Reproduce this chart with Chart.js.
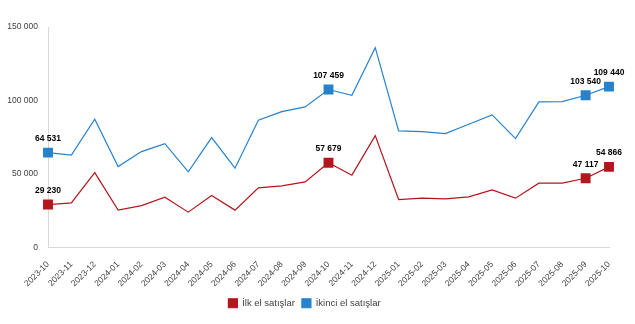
<!DOCTYPE html>
<html>
<head>
<meta charset="utf-8">
<script src="https://cdn.jsdelivr.net/npm/chart.js@4"></script>
<style>
    html, body { margin: 0; padding: 0; background: #fff; }
    #wrap { width: 635px; height: 324px; }
</style>
</head>
<body>
<div id="wrap"><canvas id="chart"></canvas></div>
<script>
const months = [
    '2023-10', '2023-11', '2023-12', '2024-01', '2024-02', '2024-03', '2024-04',
    '2024-05', '2024-06', '2024-07', '2024-08', '2024-09', '2024-10', '2024-11',
    '2024-12', '2025-01', '2025-02', '2025-03', '2025-04', '2025-05', '2025-06',
    '2025-07', '2025-08', '2025-09', '2025-10'
];

const firstHand = [
    29230, 30380, 50970, 25420, 28540, 34250, 24060, 35340, 25420, 40570, 41930, 44650,
    57679, 49200, 76120, 32620, 33570, 33100, 34460, 39210, 33570, 43760, 43760, 47117, 54866
];

const secondHand = [
    64531, 62800, 87260, 55050, 65240, 70680, 51450, 74760, 53960, 86580, 92430, 95620,
    107459, 103570, 135920, 79310, 78830, 77470, 83860, 90180, 74080, 99020, 99220, 103540, 109440
];

// months that get a square marker and a value label
const highlighted = [0, 12, 23, 24];

const RED = '#b3161c';
const BLUE = '#2782cc';
const TEXT = '#404040';
const FONT = "'Liberation Sans', Arial, sans-serif";

const fmt = (v) => String(Math.round(v)).replace(/\B(?=(\d{3})+(?!\d))/g, ' ');

const pointLabels = {
    id: 'pointLabels',
    afterDatasetsDraw(chart) {
        const ctx = chart.ctx;
        ctx.save();
        ctx.font = `bold 8.5px ${FONT}`;
        ctx.fillStyle = '#000';
        ctx.textAlign = 'center';
        ctx.textBaseline = 'middle';
        chart.data.datasets.forEach((ds, di) => {
            const meta = chart.getDatasetMeta(di);
            highlighted.forEach(i => {
                const p = meta.data[i];
                if (p) ctx.fillText(fmt(ds.data[i]), p.x, p.y - 14);
            });
        });
        ctx.restore();
    }
};

const markerRadius = (ctx) => highlighted.includes(ctx.dataIndex) ? 7 : 0;

new Chart(document.getElementById('chart'), {
    type: 'line',
    data: {
        labels: months,
        datasets: [{
            label: 'İlk el satışlar',
            data: firstHand,
            borderColor: RED,
            backgroundColor: RED,
            borderWidth: 1.2,
            pointStyle: 'rect',
            pointRadius: markerRadius,
            pointBorderWidth: 0,
            tension: 0
        }, {
            label: 'İkinci el satışlar',
            data: secondHand,
            borderColor: BLUE,
            backgroundColor: BLUE,
            borderWidth: 1.2,
            pointStyle: 'rect',
            pointRadius: markerRadius,
            pointBorderWidth: 0,
            tension: 0
        }]
    },
    options: {
        responsive: true,
        maintainAspectRatio: false,
        animation: false,
        layout: { padding: { top: 27, right: 26, left: 0, bottom: 6 } },
        plugins: {
            legend: {
                position: 'bottom',
                labels: {
                    boxWidth: 9,
                    boxHeight: 9,
                    color: TEXT,
                    font: { family: FONT, size: 9.5 },
                    padding: 7
                }
            },
            tooltip: { enabled: false }
        },
        scales: {
            x: {
                offset: false,
                afterFit: (scale) => { scale.height = 44; },
                grid: { display: true, drawOnChartArea: false, drawTicks: false },
                border: { display: true, color: '#d9d9d9' },
                ticks: {
                    maxRotation: 45,
                    minRotation: 45,
                    autoSkip: false,
                    padding: 12,
                    color: TEXT,
                    font: { family: FONT, size: 8.5 }
                }
            },
            y: {
                min: 0,
                max: 150000,
                afterFit: (scale) => { scale.width = 48; },
                grid: { display: true, drawOnChartArea: false, drawTicks: false },
                border: { display: true, color: '#d9d9d9' },
                ticks: {
                    stepSize: 50000,
                    padding: 10,
                    color: TEXT,
                    font: { family: FONT, size: 8.5 },
                    callback: (v) => fmt(v)
                }
            }
        }
    },
    plugins: [pointLabels]
});
</script>
</body>
</html>
